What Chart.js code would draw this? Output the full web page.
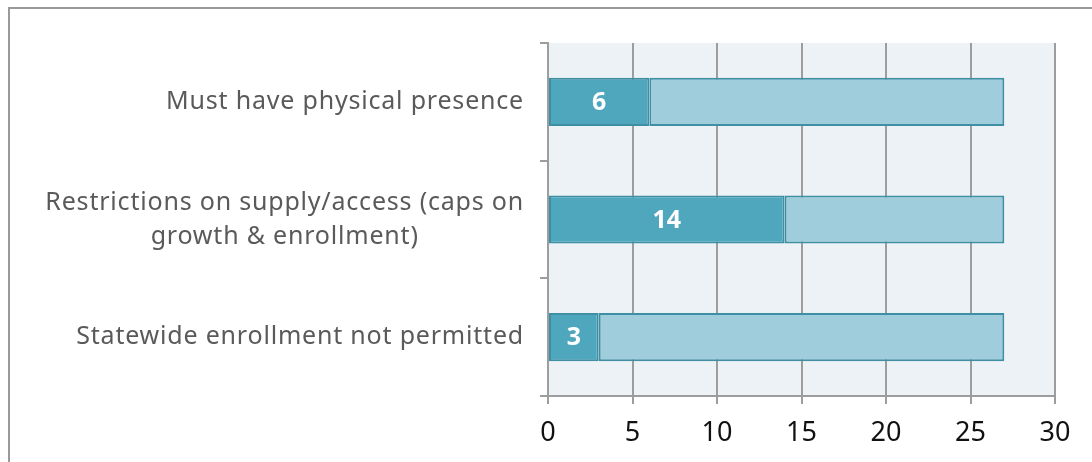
<!DOCTYPE html>
<html>
<head>
<meta charset="utf-8">
<script src="https://cdn.jsdelivr.net/npm/chart.js@4"></script>
<style>
  html, body { margin: 0; padding: 0; background: #fff; overflow: hidden; }
  #wrap { position: relative; width: 1092px; height: 462px; }
  #frame { position: absolute; left: 8px; top: 7px; width: 1200px; height: 600px; border: 2px solid #999; box-sizing: border-box; }
  canvas { position: absolute; left: 0; top: 0; }
</style>
</head>
<body>
<div id="wrap">
  <div id="frame"></div>
  <canvas id="myChart" width="1092" height="462"></canvas>
</div>
<script>
const categories = [
  ["Must have physical presence"],
  ["Restrictions on supply/access (caps on", "growth & enrollment)"],
  ["Statewide enrollment not permitted"]
];
const stateCounts = [6, 14, 3];
const remaining = [21, 13, 24];
const xTicks = [0, 5, 10, 15, 20, 25, 30];

const labelFont = "25px 'Noto Sans'";

const plotBg = {
  id: "plotBg",
  beforeDraw(chart) {
    const { ctx, chartArea: a } = chart;
    ctx.save();
    ctx.fillStyle = "#edf2f6";
    ctx.fillRect(a.left, a.top, a.right - a.left, a.bottom - a.top);
    ctx.restore();
  }
};

// category labels, second line centered under the first
const catLabels = {
  id: "catLabels",
  afterDraw(chart) {
    const ctx = chart.ctx;
    const y = chart.scales.y;
    ctx.save();
    ctx.font = labelFont;
    ctx.letterSpacing = "0.8px";
    ctx.fillStyle = "#5a5a5a";
    ctx.textAlign = "center";
    ctx.textBaseline = "middle";
    categories.forEach((lines, i) => {
      const cy = y.getPixelForValue(i);
      const w = Math.max(...lines.map(l => ctx.measureText(l).width));
      const cx = 524 - w / 2;
      const lh = 34;
      lines.forEach((l, j) => {
        ctx.fillText(l, cx, cy + (j - (lines.length - 1) / 2) * lh);
      });
    });
    ctx.restore();
  }
};

const valueLabels = {
  id: "valueLabels",
  afterDatasetsDraw(chart) {
    const ctx = chart.ctx;
    const meta = chart.getDatasetMeta(0);
    ctx.save();
    ctx.font = "bold 25px 'Noto Sans'";
    ctx.fillStyle = "#fff";
    ctx.textAlign = "center";
    ctx.textBaseline = "middle";
    meta.data.forEach((bar, i) => {
      const cx = (bar.base + bar.x) / 2;
      ctx.fillText(String(stateCounts[i]), cx, bar.y + 1);
    });
    ctx.restore();
  }
};

const myCanvas = document.getElementById("myChart");

const chart = new Chart(myCanvas, {
  type: "bar",
  data: {
    labels: categories.map(c => c.join(" ")),
    datasets: [
      {
        label: "States",
        data: stateCounts,
        backgroundColor: "#4fa7be",
        borderColor: "#3e8fa4",
        borderWidth: 2,
        borderSkipped: false
      },
      {
        label: "Remaining",
        data: remaining,
        backgroundColor: "#a0cddb",
        borderColor: "#3e8fa4",
        borderWidth: 2,
        borderSkipped: false
      }
    ]
  },
  options: {
    indexAxis: "y",
    responsive: false,
    animation: false,
    layout: { padding: { left: 0, right: 37, top: 43, bottom: 0 } },
    datasets: { bar: { barPercentage: 0.41, categoryPercentage: 1 } },
    plugins: { legend: { display: false }, tooltip: { enabled: false } },
    scales: {
      x: {
        stacked: true,
        min: 0,
        max: 30,
        afterBuildTicks(scale) {
          scale.ticks = xTicks.map(v => ({ value: v }));
        },
        grid: { color: "#9d9d9d", lineWidth: 2, tickLength: 8, drawTicks: true },
        border: { display: true, color: "#9d9d9d", width: 2 },
        ticks: { color: "#111", font: { family: "Noto Sans", size: 27 }, padding: 13 },
        afterFit(scale) { scale.height = 66; }
      },
      y: {
        stacked: true,
        grid: { drawOnChartArea: false, drawTicks: true, tickLength: 8, color: "#9d9d9d", lineWidth: 2, offset: true },
        border: { display: true, color: "#9d9d9d", width: 2 },
        ticks: { display: false },
        afterFit(scale) { scale.width = 548; }
      }
    }
  },
  plugins: [plotBg, catLabels, valueLabels]
});
</script>
</body>
</html>
